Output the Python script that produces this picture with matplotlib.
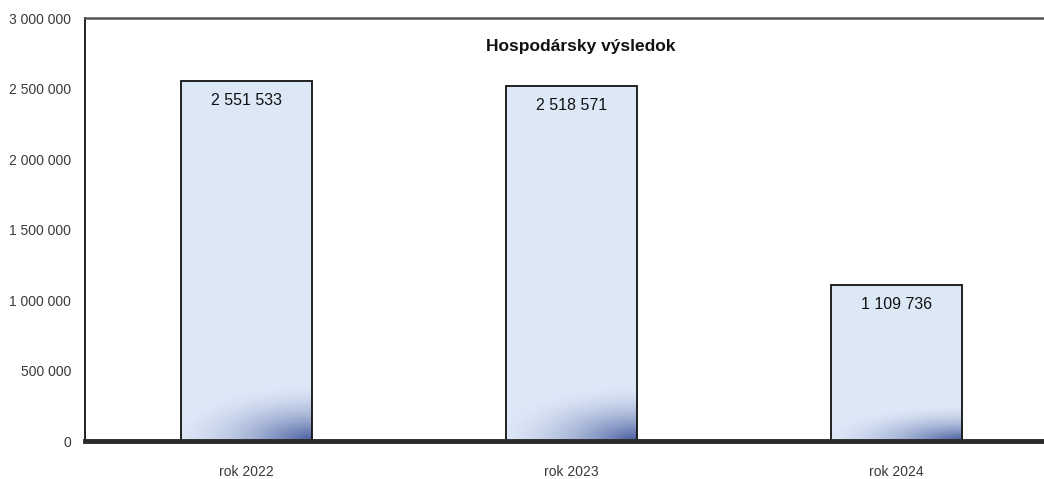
import matplotlib
matplotlib.use('Agg')
import matplotlib.pyplot as plt
import numpy as np

plt.rcParams['font.family'] = ['Liberation Sans', 'DejaVu Sans']

# data
categories = ['rok 2022', 'rok 2023', 'rok 2024']
values = [2551533, 2518571, 1109736]
title = 'Hospodársky výsledok'


def fmt(v):
    return f'{int(v):,}'.replace(',', ' ')


fig = plt.figure(figsize=(10.44, 4.79), dpi=100)
ax = fig.add_axes([0.0814, 0.0793, 0.9186, 0.8831])

x = np.arange(len(categories))
bars = ax.bar(x, values, width=0.403, color='none', edgecolor='#111111',
              linewidth=1.3, zorder=3)

light = np.array([0.87, 0.91, 0.97])
dark = np.array([0.28, 0.36, 0.62])
gx = np.linspace(0, 1, 120)[None, :]
gy = np.linspace(0, 1, 300)[:, None]

for b in bars:
    x0, w, h = b.get_x(), b.get_width(), b.get_height()
    # dark tint in the bottom-right corner, a bit smaller on short bars
    frac = min(1.0, max(0.26, 420000 / h))
    ys = np.clip((gy - (1 - frac)) / frac, 0, 1)
    d = np.sqrt(((1 - gx) * 0.9) ** 2 + ((1 - ys) * 1.6) ** 2)
    s = np.clip(1 - d, 0, 1) ** 1.8
    s = np.where(gy < 1 - frac, 0, s)
    img = light[None, None, :] * (1 - s[..., None]) + dark[None, None, :] * s[..., None]
    im = ax.imshow(img, extent=[x0, x0 + w, 0, h], origin='upper', aspect='auto', zorder=2)
    im.set_clip_path(b)
    ax.text(x0 + w / 2, h - 140000, fmt(h), ha='center', va='center',
            fontsize=11.5, color='#111111', zorder=4)

ax.set_xlim(-0.497, 2.454)
ax.set_ylim(0, 3000000)
ax.set_yticks(np.arange(0, 3000001, 500000))
ax.set_yticklabels([fmt(v) for v in np.arange(0, 3000001, 500000)])
ax.set_xticks(x)
ax.set_xticklabels(categories)
ax.tick_params(axis='y', length=0, pad=10, labelsize=10, labelcolor='#3a3a3a')
ax.tick_params(axis='x', length=0, pad=17, labelsize=10, labelcolor='#3a3a3a')

ax.spines['right'].set_visible(False)
ax.spines['left'].set_linewidth(1.4)
ax.spines['left'].set_color('#222222')
ax.spines['top'].set_linewidth(1.8)
ax.spines['top'].set_color('#555555')
ax.spines['bottom'].set_linewidth(3.5)
ax.spines['bottom'].set_color('#2a2a2a')
ax.spines['bottom'].set_zorder(5)

fig.text(581 / 1044, 1 - 47 / 479, title, ha='center', va='center',
         fontsize=12.5, fontweight='bold', color='#111111')

fig.savefig('out.png', dpi=100)
